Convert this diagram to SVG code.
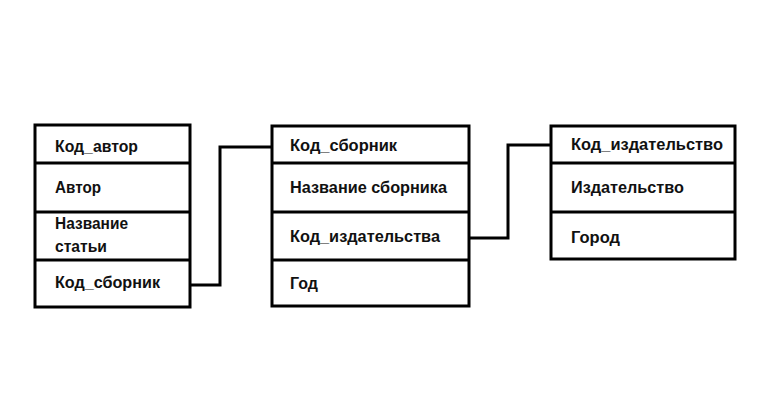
<svg xmlns="http://www.w3.org/2000/svg" width="780" height="397" viewBox="0 0 780 397">
<style>
.box{fill:#fff;stroke:#000;stroke-width:3}
.div{stroke:#000;stroke-width:3}
.t{font-family:"Liberation Sans",Arial,sans-serif;font-weight:bold;font-size:17px;fill:#111}
.con{fill:none;stroke:#000;stroke-width:3}
</style>
<rect width="780" height="397" fill="#fff"/>
<g id="connectors">
<polyline class="con" points="190,285 220,285 220,147 272,147"/>
<polyline class="con" points="469,238 508,238 508,145 551,145"/>
</g>
<g id="authors">
<rect class="box" x="35" y="125" width="155" height="182"/>
<line class="div" x1="35" y1="163" x2="190" y2="163"/>
<line class="div" x1="35" y1="212" x2="190" y2="212"/>
<line class="div" x1="35" y1="260" x2="190" y2="260"/>
<text class="t" x="55" y="152" textLength="83" lengthAdjust="spacingAndGlyphs">Код_автор</text>
<text class="t" x="55" y="193" textLength="46" lengthAdjust="spacingAndGlyphs">Автор</text>
<text class="t" x="55" y="229" textLength="73" lengthAdjust="spacingAndGlyphs">Название</text>
<text class="t" x="55" y="252" textLength="52" lengthAdjust="spacingAndGlyphs">статьи</text>
<text class="t" x="55" y="288" textLength="105" lengthAdjust="spacingAndGlyphs">Код_сборник</text>
</g>
<g id="collections">
<rect class="box" x="272" y="126" width="197" height="180"/>
<line class="div" x1="272" y1="163" x2="469" y2="163"/>
<line class="div" x1="272" y1="212" x2="469" y2="212"/>
<line class="div" x1="272" y1="260" x2="469" y2="260"/>
<text class="t" x="290" y="151" textLength="107" lengthAdjust="spacingAndGlyphs">Код_сборник</text>
<text class="t" x="290" y="193" textLength="157" lengthAdjust="spacingAndGlyphs">Название сборника</text>
<text class="t" x="290" y="242" textLength="150" lengthAdjust="spacingAndGlyphs">Код_издательства</text>
<text class="t" x="290" y="289" textLength="28" lengthAdjust="spacingAndGlyphs">Год</text>
</g>
<g id="publishers">
<rect class="box" x="551" y="126" width="184" height="133"/>
<line class="div" x1="551" y1="163" x2="735" y2="163"/>
<line class="div" x1="551" y1="212" x2="735" y2="212"/>
<text class="t" x="571" y="150" textLength="152" lengthAdjust="spacingAndGlyphs">Код_издательство</text>
<text class="t" x="571" y="193" textLength="113" lengthAdjust="spacingAndGlyphs">Издательство</text>
<text class="t" x="571" y="243" textLength="49" lengthAdjust="spacingAndGlyphs">Город</text>
</g>
</svg>
